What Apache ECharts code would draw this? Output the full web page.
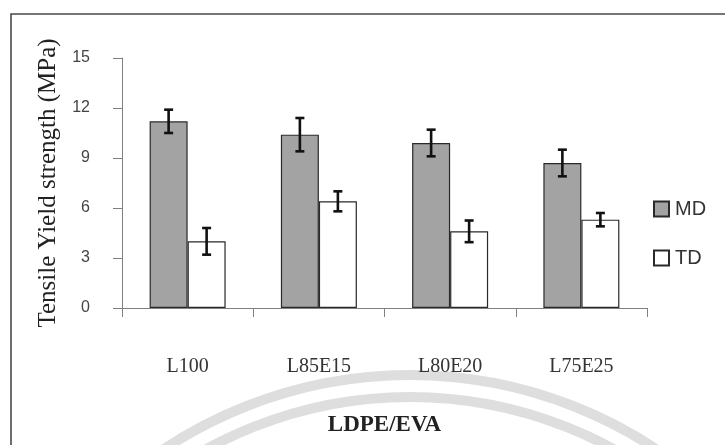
<!DOCTYPE html>
<html>
<head>
<meta charset="utf-8">
<script src="https://cdn.jsdelivr.net/npm/echarts@6/dist/echarts.min.js"></script>
<style>
  html, body { margin: 0; padding: 0; background: #ffffff; }
  #chart { width: 725px; height: 445px; }
</style>
</head>
<body>
<div id="chart"></div>
<script>
// Blend compositions and measured tensile yield strength (MPa)
const categories = ['L100', 'L85E15', 'L80E20', 'L75E25'];
const mdValues = [11.2, 10.4, 9.9, 8.7];
const mdErrors = [0.7, 1.0, 0.8, 0.8];
const tdValues = [4.0, 6.4, 4.6, 5.3];
const tdErrors = [0.8, 0.6, 0.65, 0.4];

const BAR_W = 38;

function errorData(values, errors) {
  return values.map((v, i) => [i, v - errors[i], v + errors[i]]);
}

// Draws an I-shaped error bar, shifted sideways onto its own bar of the pair
function errorRenderer(shift) {
  return function (params, api) {
    const i = api.value(0);
    const lo = api.coord([i, api.value(1)]);
    const hi = api.coord([i, api.value(2)]);
    const x = lo[0] + shift;
    const cap = 4.5;
    const style = { stroke: '#111', lineWidth: 2.6 };
    return {
      type: 'group',
      children: [
        { type: 'line', shape: { x1: x, y1: hi[1], x2: x, y2: lo[1] }, style },
        { type: 'line', shape: { x1: x - cap, y1: hi[1], x2: x + cap, y2: hi[1] }, style },
        { type: 'line', shape: { x1: x - cap, y1: lo[1], x2: x + cap, y2: lo[1] }, style }
      ]
    };
  };
}

const chart = echarts.init(document.getElementById('chart'), null, { renderer: 'canvas' });

chart.setOption({
  animation: false,
  backgroundColor: '#ffffff',
  grid: { left: 122, right: 78, top: 58, bottom: 137 },
  legend: {
    orient: 'vertical',
    left: 648,
    top: 194,
    itemWidth: 15,
    itemHeight: 15,
    itemGap: 29,
    icon: 'rect',
    textStyle: { fontFamily: 'Liberation Sans', fontSize: 20, color: '#333', padding: [0, 0, 0, 1] },
    data: ['MD', 'TD']
  },
  xAxis: {
    type: 'category',
    data: categories,
    name: 'LDPE/EVA',
    nameLocation: 'middle',
    nameGap: 106,
    nameTextStyle: { fontFamily: 'Liberation Serif', fontWeight: 'bold', fontSize: 23, color: '#222' },
    axisLine: { lineStyle: { color: '#808080', width: 1 } },
    axisTick: { show: true, alignWithLabel: false, length: 9, lineStyle: { color: '#808080' } },
    axisLabel: { margin: 49, fontFamily: 'Liberation Serif', fontSize: 20, color: '#333' },
    splitLine: { show: false }
  },
  yAxis: {
    type: 'value',
    min: 0,
    max: 15,
    interval: 3,
    name: 'Tensile Yield strength (MPa)',
    nameLocation: 'middle',
    nameGap: 59,
    nameTextStyle: { fontFamily: 'Liberation Serif', fontSize: 25, color: '#222' },
    axisLine: { show: true, lineStyle: { color: '#808080', width: 1 } },
    axisTick: { show: true, length: 9, lineStyle: { color: '#808080' } },
    axisLabel: { margin: 32, fontFamily: 'Liberation Sans', fontSize: 16, color: '#444' },
    splitLine: { show: false }
  },
  series: [
    {
      name: 'MD',
      type: 'bar',
      data: mdValues,
      barWidth: BAR_W,
      barGap: '0%',
      itemStyle: { color: '#a3a3a3', borderColor: '#2a2a2a', borderWidth: 1.2 }
    },
    {
      name: 'TD',
      type: 'bar',
      data: tdValues,
      barWidth: BAR_W,
      barGap: '0%',
      itemStyle: { color: '#ffffff', borderColor: '#2a2a2a', borderWidth: 1.2 }
    },
    {
      type: 'custom',
      renderItem: errorRenderer(-BAR_W / 2),
      data: errorData(mdValues, mdErrors),
      encode: { x: 0, y: [1, 2] },
      z: 5,
      silent: true
    },
    {
      type: 'custom',
      renderItem: errorRenderer(BAR_W / 2),
      data: errorData(tdValues, tdErrors),
      encode: { x: 0, y: [1, 2] },
      z: 5,
      silent: true
    }
  ],
  graphic: [
    // outer frame
    {
      type: 'rect',
      shape: { x: 11, y: 14, width: 760, height: 520 },
      style: { fill: 'none', stroke: '#4a4a4a', lineWidth: 1.6 },
      z: 1
    },
    // faint stamp rings along the lower edge
    {
      type: 'arc',
      shape: { cx: 410, cy: 820, r: 445, startAngle: Math.PI, endAngle: Math.PI * 2, clockwise: true },
      style: { fill: 'none', stroke: '#dedede', lineWidth: 10 },
      z: -1
    },
    {
      type: 'arc',
      shape: { cx: 410, cy: 820, r: 423, startAngle: Math.PI, endAngle: Math.PI * 2, clockwise: true },
      style: { fill: 'none', stroke: '#dedede', lineWidth: 10 },
      z: -1
    }
  ]
});
</script>
</body>
</html>
